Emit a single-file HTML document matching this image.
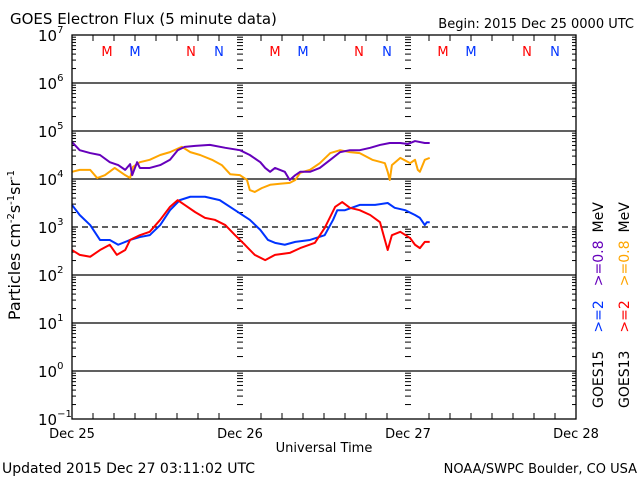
<!DOCTYPE html>
<html><head><meta charset="utf-8"><style>
html,body{margin:0;padding:0;background:#fff;}
svg{display:block;font-family:"DejaVu Sans","Liberation Sans",sans-serif;}
</style></head><body>
<svg id="chart" width="640" height="480" viewBox="0 0 640 480" xmlns="http://www.w3.org/2000/svg">
<rect width="640" height="480" fill="#fff"/>
<text x="10" y="24" font-size="15">GOES Electron Flux (5 minute data)</text>
<text x="634" y="28" font-size="13" text-anchor="end">Begin: 2015 Dec 25 0000 UTC</text>
<g id="grid"></g>
<g id="series"></g>
<rect x="72" y="35" width="504" height="384" fill="none" stroke="#000" stroke-width="1.3"/>
<g id="ylabels"></g>
<g id="xlabels"></g>
<g id="marks"></g>
<text transform="translate(20,245) rotate(-90)" font-size="16" text-anchor="middle">Particles cm<tspan font-size="10" dy="-6">-2</tspan><tspan dy="6">s</tspan><tspan font-size="10" dy="-6">-1</tspan><tspan dy="6">sr</tspan><tspan font-size="10" dy="-6">-1</tspan></text>
<text x="324" y="452" font-size="13" text-anchor="middle">Universal Time</text>
<text x="2" y="473" font-size="14">Updated 2015 Dec 27 03:11:02 UTC</text>
<text x="637" y="473" font-size="13" text-anchor="end">NOAA/SWPC Boulder, CO USA</text>
<text transform="translate(603,408) rotate(-90)" font-size="14"><tspan fill="#000">GOES15</tspan><tspan fill="#0033ff" dx="18">&gt;=2</tspan><tspan fill="#6600bb" dx="14">&gt;=0.8</tspan><tspan fill="#000" dx="8">MeV</tspan></text>
<text transform="translate(629,408) rotate(-90)" font-size="14"><tspan fill="#000">GOES13</tspan><tspan fill="#ff0000" dx="18">&gt;=2</tspan><tspan fill="#ffa500" dx="14">&gt;=0.8</tspan><tspan fill="#000" dx="8">MeV</tspan></text>
</svg>
<script>
const dayLabels=["Dec 25","Dec 26","Dec 27","Dec 28"];
const decadeExps=[-1,0,1,2,3,4,5,6,7];
const markerLetters=["M","M","N","N"];
const markerHours=[5,9,17,21];
const markerColors=["#ff0000","#0033ff","#ff0000","#0033ff"];
const p15Hours=[0,1.1,2.6,4,5.4,6.6,7.6,8.3,8.6,9.3,9.7,11.1,12.6,14,15.1,16.1,17.6,19.7,21.9,24,25.4,26.9,27.6,28.3,29,30.4,31.1,31.9,32.6,34,35.4,36.9,38.3,39.7,41.1,42.6,44,45.4,46.9,48,49,50.4,51.1];
const p15Log=[4.77,4.60,4.54,4.50,4.35,4.29,4.19,4.31,4.08,4.35,4.23,4.23,4.29,4.40,4.60,4.67,4.69,4.71,4.65,4.60,4.50,4.35,4.23,4.15,4.23,4.15,3.98,4.08,4.15,4.15,4.23,4.40,4.56,4.60,4.60,4.65,4.71,4.75,4.75,4.73,4.79,4.75,4.75];
const p13Hours=[0,1.1,2.6,3.6,4.7,6.1,7.6,8.3,8.7,9.7,11.1,12.6,14,15.7,16.9,18.3,20,21.4,22.6,24,25,25.4,26.1,27.1,28.3,29.7,31.1,31.9,32.6,34,35.4,36.9,38.3,39.7,41.1,42.9,44.7,45.1,45.4,45.7,46.9,48.3,49,49.4,49.7,50.4,51.1];
const p13Log=[4.15,4.19,4.19,4.02,4.08,4.23,4.08,4.02,4.25,4.35,4.40,4.50,4.56,4.67,4.56,4.50,4.40,4.29,4.10,4.08,3.98,3.77,3.73,3.81,3.88,3.90,3.92,3.98,4.13,4.19,4.33,4.54,4.60,4.56,4.54,4.40,4.33,4.15,3.98,4.29,4.44,4.33,4.40,4.19,4.15,4.40,4.44];
const e15Hours=[0,1.1,2.6,4,5.4,6.6,8.3,9.7,11.1,12.6,14,15.4,16.9,19,21.1,23.3,25.4,26.9,28,29,30.4,31.9,34,36.1,37.3,37.9,39,41.1,43.3,45.1,46.1,47.6,49,49.7,50.4,50.7,51.1];
const e15Log=[3.46,3.25,3.04,2.73,2.73,2.63,2.73,2.79,2.83,3.04,3.35,3.56,3.63,3.63,3.56,3.35,3.15,2.94,2.73,2.67,2.63,2.69,2.73,2.83,3.15,3.35,3.35,3.46,3.46,3.50,3.40,3.35,3.25,3.19,3.04,3.10,3.10];
const e13Hours=[0,1.1,2.6,4,5.4,6.4,7.6,8.3,9.7,11.1,12.6,14,15.1,16.1,17.6,19,20.4,21.9,23.3,24.7,26.1,27.6,29,31.1,32.6,34.7,36.1,37.6,38.6,39.7,41.1,42.6,44,44.7,45.1,45.7,46.9,48.3,49,49.7,50.4,51.1];
const e13Log=[2.52,2.42,2.38,2.52,2.63,2.42,2.52,2.73,2.83,2.90,3.15,3.42,3.56,3.46,3.31,3.19,3.15,3.04,2.83,2.63,2.42,2.31,2.42,2.46,2.56,2.67,2.98,3.42,3.52,3.40,3.35,3.25,3.10,2.73,2.52,2.83,2.90,2.77,2.63,2.56,2.69,2.69];

const NS="http://www.w3.org/2000/svg";
const X0=72,X1=576,Y0=35,Y1=419,HOURS=72,LMIN=-1,LMAX=7;
function xs(h){return X0+(X1-X0)*h/HOURS;}
function ys(l){return Y1-(Y1-Y0)*(l-LMIN)/(LMAX-LMIN);}
function mk(tag,attrs,parent){const e=document.createElementNS(NS,tag);for(const k in attrs)e.setAttribute(k,attrs[k]);parent.appendChild(e);return e;}
const grid=document.getElementById('grid'),ser=document.getElementById('series'),yl=document.getElementById('ylabels'),xl=document.getElementById('xlabels'),mg=document.getElementById('marks');

decadeExps.forEach(d=>{
  const y=ys(d);
  if(d>LMIN&&d<LMAX){
    const ln=mk('line',{x1:X0,x2:X1,y1:y,y2:y,stroke:'#000','stroke-width':1.3,'stroke-dasharray':d===3?'6,4':'none'},grid);
    
    
  }
  const t=mk('text',{x:38,y:y+6,'font-size':15},yl);
  
  
  t.innerHTML='10<tspan font-size="10" dy="-8">'+(d<0?'\u2212'+(-d):d)+'</tspan>';
  if(d<LMAX){
    for(let m=2;m<=9;m++){
      const yy=ys(d+Math.log10(m));
      mk('line',{x1:X0,x2:X0+4,y1:yy,y2:yy,stroke:'#000'},grid);
      mk('line',{x1:X1-4,x2:X1,y1:yy,y2:yy,stroke:'#000'},grid);
      [1,2].forEach(k=>{const xx=xs(24*k);mk('line',{x1:xx-3,x2:xx+3,y1:yy,y2:yy,stroke:'#000'},grid);});
    }
  }
});
for(let h=3;h<HOURS;h+=3){
  const x=xs(h),len=(h%24===0)?0:6;
  if(len){mk('line',{x1:x,x2:x,y1:Y1,y2:Y1-len,stroke:'#000'},grid);mk('line',{x1:x,x2:x,y1:Y0,y2:Y0+len,stroke:'#000'},grid);}
}
dayLabels.forEach((lab,i)=>{
  const t=mk('text',{x:xs(24*i),y:438,'font-size':13,'text-anchor':'middle'},xl);
  
  
  t.textContent=lab;
});
for(let day=0;day<3;day++){
  markerLetters.forEach((L,i)=>{
    const t=mk('text',{x:xs(24*day+markerHours[i]),y:56,'font-size':13,'text-anchor':'middle',fill:markerColors[i]},mg);
    
    
    t.textContent=L;
  });
}
function draw(hours,logs,color,name){
  const pts=hours.map((h,i)=>xs(h)+','+ys(logs[i]));
  const p=mk('polyline',{points:pts.join(' '),fill:'none',stroke:color,'stroke-width':2,'stroke-linejoin':'round'},ser);
  
  
}
draw(p13Hours,p13Log,'#ffa500','goes13-0.8mev-line');
draw(p15Hours,p15Log,'#6600bb','goes15-0.8mev-line');
draw(e15Hours,e15Log,'#0033ff','goes15-2mev-line');
draw(e13Hours,e13Log,'#ff0000','goes13-2mev-line');
</script>
</body></html>
